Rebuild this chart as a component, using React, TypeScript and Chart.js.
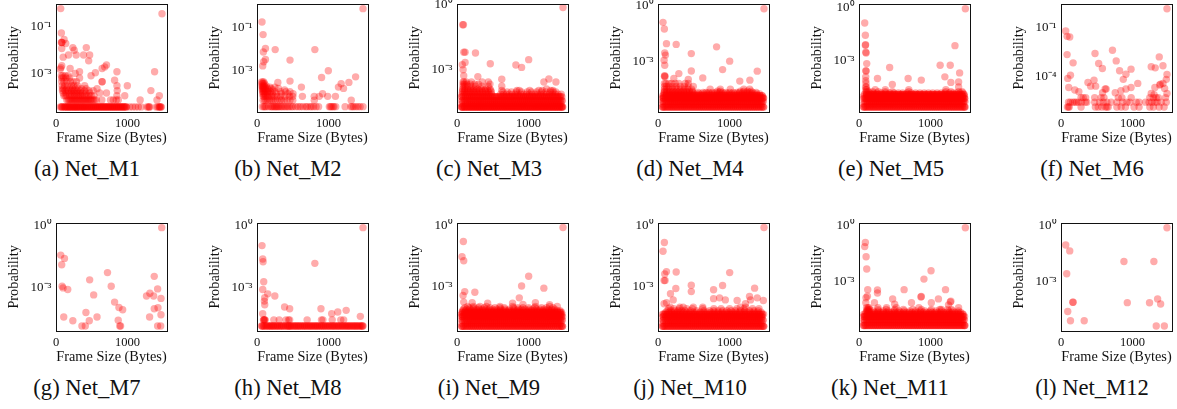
import { useEffect, useRef } from "react";
import { Chart, registerables } from "chart.js";
Chart.register(...registerables);

// Values are frame size in bytes and log10(probability).
// Frame sizes seen all across the saturated bands of the busy panels.
const denseA = [64,79,101,128,155,181,208,234,261,287,314,340,367,393,420,446,473,499,526,552,579,605,632,658,685,711,738,764,791,817,844,870,897,923,950,976,1003,1029,1056,1082,1109,1135,1162,1188,1215,1241,1268,1294,1321,1347,1374,1400,1427,1453,1474];
const denseB = [73,108,137,169,197,226,252,281,307,333,361,388,415,444,471,500,527,553,583,609,637,665,691,719,748,774,802,829,858,884,911,939,968,994,1021,1049,1077,1104,1131,1159,1187,1213,1241,1269,1297,1323,1352,1379,1406,1434,1461];
const denseC = [68,116,147,172,203,229,263,292,321,351,378,409,437,466,493,524,551,581,612,639,668,697,727,756,785,813,843,872,903,931,959,988,1017,1046,1074,1103,1133,1161,1191,1220,1249,1277,1307,1336,1365,1393,1422,1451];

const m1RowProbs = [-4.44, -4.14, -3.96, -3.84, -3.74, -3.66, -3.53, -3.36, -3.2, -3.1, -4.44];
const m1RowSizes = [
  [60,75,90,110,120,135,150,165,180,190,205,220,235,250,260,275,290,300,315,330,345,360,375,385,400,415,430,445,460,475,490,505,520,535,550,565,580,595,610,625,640,655,670,685,700,715,730,745,760,775,790,805,820,835,850,865,880,895,910,925,940,955,970,985,1030,1070,1110,1150,1190,1270,1290,1310,1400,1420,1440,1455,1470],
  [150,170,185,200,215,230,245,260,275,290,305,320,335,350,365,380,395,410,425,440,455,470,485,500,520,540,565,640,761,800,841,870,1175,1410],
  [110,130,150,190,215,240,260,290,320,345,370,400,430,460,490,530,850,960,1443],
  [100,140,180,210,250,280,310,340,370,420,470,611,705],
  [90,130,170,215,250,295,340,400,460,520,855,1325],
  [90,110,150,195,230,265,310,360,420,573],
  [85,120,160,215,250,300,400,851,996],
  [80,110,150,200,240,285,644],
  [80,100,140,190,329],
  [75,95,130,170,489],
  [82,128,155,181,208,234,261,287,314,340,367,393,420,446,473,499,526,552,579,605,632,658,685,711,738,764,791,817,844,870,897,923,950,976,1300,1445,1462],
];
const m1Sizes = [66,1480,75,113,75,85,80,136,80,174,235,254,423,282,385,470,456,705,680,644,550,851,1377,329,268,197,80,70,60,644,818,100];
const m1Probs = [-0.21,-0.43,-1.26,-1.54,-1.67,-1.67,-1.67,-1.71,-1.93,-2.21,-1.89,-2,-1.89,-2.21,-2.21,-2.21,-2.46,-2.64,-2.72,-2.79,-2.97,-2.93,-2.93,-2.93,-3,-2.79,-2.67,-2.75,-2.82,-3.36,-3.29,-2.3];

const m2RowProbs = [-4.67, -4.37, -4.19, -4.07, -3.97, -3.89, -3.82, -3.76, -3.7, -3.6, -3.52];
const m2RowSizes = [
  [75,95,110,125,160,190,205,220,240,255,270,285,300,320,340,360,385,405,430,450,480,500,540,575,605,640,680,700,740,760,790,825,860,1010,1025,1040,1060,1075,1100,1230,1310,1330,1350,1380,1410,1440,1480],
  [85,105,125,150,175,200,225,255,285,320,345,380,420,460,500,800,1316],
  [85,100,120,145,170,205,240,280,330,390,455,500,634,799,869,987,1095],
  [80,95,115,145,175,215,270,340,432,503,916],
  [80,95,120,150,190,250,330,400,460],
  [75,95,120,160,220,385],
  [75,90,110,150,200,300,1208],
  [75,90,115,180,250,1137,620],
  [70,85,100,130],
  [70,85,105,1175],
  [65,80,95],
];
const m2Sizes = [1480,70,85,118,89,254,808,461,118,94,80,996,902,1377,1283,461,291];
const m2Probs = [-0.1,-0.72,-1.31,-1.96,-2.12,-2.01,-2.01,-2.5,-2.47,-2.58,-2.77,-3,-3.31,-3.28,-3.54,-3.48,-3.54];

const m3RowProbs = [-4.77, -4.47, -4.29, -4.17, -4.07, -3.99, -3.92, -3.8, -3.7, -3.6, -4.77, -4.77, -4.62, -4.47, -4.29];
const m3RowSizes = [
  [62,85,110,135,162,188,212,238,265,291,316,342,368,393,420,447,472,498,523,550,575,601,628,654,679,705,732,757,783,810,835,861,888,914,940,965,991,1018,1044,1070,1096,1122,1148,1175,1201,1226,1252,1279,1305,1331,1357,1383,1408,1434,1460,1475],
  [70,97,123,150,178,204,230,257,283,310,336,362,390,416,442,468,495,521,548,574,600,627,653,680,706,732,759,785,811,838,864,890,917,943,970,996,1023,1049,1075,1102,1128,1154,1181,1207,1233,1260,1286,1312,1339,1365,1391,1418,1444,1470],
  [66,90,118,148,176,206,236,266,296,326,356,386,416,446,476,506,536,566,596,626,656,686,716,746,776,806,836,866,896,926,956,986,1016,1046,1076,1106,1136,1166,1196,1226,1256,1286,1316,1346,1376,1406,1436,1465],
  [72,100,130,162,194,226,258,290,322,354,386,418,450,482,610,650,690,730,770,810,850,890,930,970,1010,1050,1090,1130,1170,1210,1250,1290,1330,1370,1410,1455],
  [76,105,140,175,210,245,280,320,360,400,440,480,640,700,760,830,900,980,1040,1110,1180,1240,1300,1340,1380],
  [80,110,150,190,230,270,310,350,390,430,470,625,837,870,1015,1142,1190,1310,1340],
  [80,110,150,190,240,290,340,400,460,1250],
  [85,110,150,200,260,350,437,625],
  [85,105,140,190,250,300,460],
  [85,100,130,202,352,437,1213,1382],
  denseA, denseB, denseC, denseB, denseC,
];
const m3Sizes = [1480,80,90,113,95,258,113,75,465,85,1001,822,902,291,625,94,1283];
const m3Probs = [-0.13,-0.93,-0.93,-2.21,-2.21,-2.25,-2.69,-2.8,-2.75,-3.03,-2.56,-2.81,-2.92,-3.35,-3.47,-3.31,-3.46];

const m4RowProbs = [-5.4, -5.1, -4.92, -4.8, -4.7, -4.62, -4.55, -4.45, -4.3, -4.15, -5.4, -5.25, -5.1, -4.92, -4.8];
const m4RowSizes = [
  [62,88,114,140,167,193,219,245,271,298,324,350,376,402,428,455,481,507,533,560,586,612,638,664,691,717,743,769,795,821,848,874,900,926,953,979,1005,1031,1057,1084,1110,1136,1162,1189,1215,1241,1267,1293,1320,1346,1372,1398,1425,1451,1475],
  [68,95,123,150,178,205,233,260,288,315,343,370,398,425,453,480,508,535,563,590,618,645,673,700,728,755,783,810,838,865,893,920,948,975,1003,1030,1058,1085,1113,1140,1168,1195,1223,1250,1278,1305,1333,1360,1388,1415,1443,1470],
  [75,105,135,165,195,225,255,285,315,345,375,405,435,465,495,525,555,585,615,645,675,705,735,765,795,825,855,885,915,945,975,1005,1035,1065,1095,1125,1155,1185,1215,1245,1275,1305,1335,1365,1395,1425,1455,1472],
  [80,112,144,176,208,240,272,304,336,368,400,432,464,496,528,560,592,624,656,688,720,752,784,816,848,880,912,944,976,1008,1040,1072,1104,1136,1168,1200,1232,1264,1296,1328,1360,1392,1424,1456],
  [85,120,155,190,225,260,295,330,365,400,435,470,505,540,575,610,645,680,715,750,785,820,855,890,925,960,995,1030,1065,1100,1135,1170,1205,1240,1275,1310,1345,1380,1420],
  [85,120,160,200,240,280,320,360,400,440,480,560,630,670,710,760,810,860,900,950,1000,1050,1100,1140,1190,1240,1280,1320,1370],
  [90,125,170,215,260,305,350,395,440,480,830,870,1150,1200,1250,1300],
  [90,120,160,210,260,310,360,410,470,728,870,1010,1280,1198],
  [90,115,150,200,250,310,370,420,493],
  [90,110,150,190,240,290,380,423],
  denseA, denseC, denseB, denseA, denseC,
];
const m4Sizes = [1480,70,89,118,254,94,104,85,465,818,1001,902,1386,465,94,90,94,98,625,291,221,1142,1283,423];
const m4Probs = [-0.18,-0.9,-1.25,-2.03,-2.07,-2.52,-2.64,-2.91,-2.56,-2.2,-2.96,-3.41,-3.49,-3.48,-3.18,-3.76,-3.73,-3.79,-3.85,-3.62,-3.88,-4.02,-3.97,-3.93];

const m5RowProbs = [-5.57, -5.27, -5.09, -4.97, -4.87, -4.79, -4.72, -4.6, -4.45, -5.57, -5.4, -5.27, -5.09, -4.97, -4.87];
const m5RowSizes = [
  [66,92,118,144,170,196,222,248,274,300,326,352,378,404,430,456,482,508,534,560,586,612,638,664,690,716,742,768,794,820,846,872,898,924,950,976,1002,1028,1054,1080,1106,1132,1158,1184,1210,1236,1262,1288,1314,1340,1366,1392,1418,1444,1470,1482],
  [90,117,145,172,200,227,255,282,310,337,365,392,420,447,475,502,530,557,585,612,640,667,695,722,750,777,805,832,860,887,915,942,970,997,1025,1052,1080,1107,1135,1162,1190,1217,1245,1272,1300,1327,1355,1382,1410,1437,1465,1480],
  [96,126,156,186,216,246,276,306,336,366,396,426,456,486,516,546,576,606,636,666,696,726,756,786,816,846,876,906,936,966,996,1026,1056,1086,1116,1146,1176,1206,1236,1266,1296,1326,1356,1386,1416,1446,1476],
  [100,130,162,194,226,258,290,322,354,386,418,450,482,514,546,578,610,642,674,706,738,770,802,834,866,898,930,962,994,1026,1058,1090,1122,1154,1186,1218,1250,1282,1314,1346,1378,1410,1442,1472],
  [104,138,172,206,240,274,308,342,376,410,444,478,512,546,580,614,648,682,716,750,784,818,852,886,920,954,988,1022,1056,1090,1124,1158,1192,1226,1260,1294,1328,1362,1396,1430,1468],
  [100,150,200,250,310,370,430,490,550,610,670,730,790,850,910,970,1030,1090,1150,1200,1260,1310,1360,1410,1450],
  [100,130,190,270,367,465,695,1213,1283,1391,1440],
  [96,110,226,367,695,1213],
  [92,104,1391],
  denseA, denseC, denseB, denseA, denseC, denseB,
];
const m5Sizes = [1485,80,89,89,92,99,95,108,99,96,428,1340,1133,1274,1405,258,686,870,465,1199,1391,1283,94,94,98];
const m5Probs = [-0.09,-0.89,-1.57,-2.13,-2.1,-2.56,-2.52,-3.15,-3.57,-3.55,-3.37,-2.15,-3.24,-3.24,-3.67,-3.98,-3.98,-4.07,-4.31,-3.89,-4.17,-4.2,-3.89,-4.1,-4.25];

const m6RowProbs = [-5.91, -5.61, -5.33];
const m6RowSizes = [
  [90,105,115,280,480,520,570,620,640,660,780,840,900,1020,1090,1240,1290,1370,1440],
  [105,130,165,190,215,245,285,340,360,470,540,590,640,700,780,860,920,960,1050,1090,1180,1230,1270,1310,1340,1400,1470],
  [280,310,345,470,560,600,800,850,980,1240,1290,1330,1360,1460],
];
const m6Sizes = [1480,66,85,122,85,169,132,94,475,526,578,719,771,818,978,907,870,1372,1424,1260,1316,1480,1471,1424,1377,1072,978,907,376,461,414,484,616,108,193,249,757,837,1311,1447,1260,1480,1390,1300,630,580];
const m6Probs = [0.17,-1.21,-1.54,-1.58,-2.67,-3.18,-3.94,-4.14,-2.6,-3.22,-3.53,-2.4,-3.06,-3.67,-3.57,-3.88,-4.2,-2.81,-3.36,-3.42,-3.49,-3.9,-4.2,-4.45,-4.55,-4.45,-4.7,-4.8,-4.39,-4.25,-4.62,-4.62,-4.8,-4.7,-4.86,-4.97,-5.03,-4.9,-4.7,-4.76,-5.07,-5.07,-4.5,-5.15,-4.8,-5.03];

const m7RowProbs: number[] = [];
const m7RowSizes: number[][] = [];
const m7Sizes = [1476,66,118,80,85,99,164,719,470,771,526,818,879,931,1372,1419,1311,1264,1363,1466,1372,1424,1466,1307,108,235,418,465,573,869,362,409,902,890,1419,1462];
const m7Probs = [-0.08,-1.41,-1.57,-1.88,-2.92,-3,-3.08,-2.26,-2.61,-2.92,-3.34,-3.69,-3.95,-4.06,-2.44,-3.05,-3.26,-3.39,-3.39,-3.51,-4.01,-3.96,-4.3,-4.41,-4.41,-4.59,-4.19,-4.59,-4.41,-4.57,-4.85,-4.85,-4.85,-4.85,-4.85,-4.85];

const m8RowProbs = [-4.85, -4.55, -4.85];
const m8RowSizes = [
  [70,95,125,150,175,195,220,240,270,290,320,345,370,405,430,445,460,480,510,535,560,585,610,640,665,690,720,745,770,800,825,850,880,905,930,955,985,1010,1040,1065,1090,1120,1145,1175,1200,1230,1255,1280,1305,1335,1360,1385,1410,1440,1465,1480],
  [90,96,100,108,113,235,310,405,440,456,700,900,920,1050,1170,1210],
  denseA,
];
const m8Sizes = [1480,70,80,85,808,94,80,150,249,108,103,108,80,385,456,893,1043,1128,1245,1443];
const m8Probs = [-0.08,-0.95,-1.6,-1.73,-1.81,-2.7,-3.08,-3.29,-3.39,-3.48,-3.64,-3.82,-4.25,-3.93,-4.01,-4.01,-4.25,-4.17,-4.09,-4.38];

const m9RowProbs = [-4.97, -4.67, -4.49, -4.37, -4.27, -4.19, -4.12, -4.05, -3.98, -4.97, -4.82, -4.67, -4.49, -4.37, -4.27];
const m9RowSizes = [
  [68,95,122,150,177,204,231,258,286,313,340,367,395,422,449,476,503,531,558,585,612,640,667,694,721,748,776,803,830,857,885,912,939,966,993,1021,1048,1075,1102,1130,1157,1184,1211,1238,1266,1293,1320,1347,1375,1402,1429,1456,1472],
  [72,100,128,156,184,212,240,268,296,324,352,380,408,436,464,492,520,548,576,604,632,660,688,716,744,772,800,828,856,884,912,940,968,996,1024,1052,1080,1108,1136,1164,1192,1220,1248,1276,1304,1332,1360,1388,1416,1444,1470],
  [76,106,136,166,196,226,256,286,316,346,376,406,436,466,496,526,556,586,616,646,676,706,736,766,796,826,856,886,916,946,976,1006,1036,1066,1096,1126,1156,1186,1216,1246,1276,1306,1336,1366,1396,1426,1456],
  [70,102,134,166,198,230,262,294,326,358,390,422,454,486,518,550,582,614,646,678,710,742,774,806,838,870,902,934,966,998,1030,1062,1094,1126,1158,1190,1222,1254,1286,1318,1350,1382,1414,1446,1466],
  [74,110,146,182,218,254,290,326,362,398,434,470,506,542,578,614,650,686,722,758,794,830,866,902,938,974,1010,1046,1082,1118,1154,1190,1226,1262,1298,1334,1370,1406,1442],
  [80,120,160,200,240,280,320,360,400,440,480,520,560,600,640,680,720,760,800,840,880,920,960,1000,1040,1080,1120,1160,1200,1240,1280,1320,1360,1400,1440],
  [90,135,180,225,270,315,360,405,450,500,555,610,670,735,800,860,900,950,1005,1060,1110,1160,1215,1270,1320,1365],
  [110,170,230,300,380,460,530,600,660,790,850,920,1000,1085,1180,1250,1340],
  [150,230,320,410,600,776,1095,1293,1400],
  denseA, denseC, denseB, denseA, denseC, denseB,
];
const m9Sizes = [1480,89,70,94,108,85,249,1001,902,1213,870,94,212,428,1095,776,921,1293];
const m9Probs = [-0.08,-0.77,-1.52,-1.72,-3.25,-3.44,-3.28,-2.49,-2.97,-3.08,-3.56,-3.77,-3.8,-3.82,-3.8,-3.82,-3.88,-3.9];

const m10RowProbs = [-4.97, -4.67, -4.49, -4.37, -4.27, -4.19, -4.1, -4.02, -4.97, -4.82, -4.67, -4.49, -4.37];
const m10RowSizes = [
  [62,88,115,142,169,196,223,250,277,304,331,358,385,412,439,466,493,520,547,574,601,628,655,682,709,736,763,790,817,844,871,898,925,952,979,1006,1033,1060,1087,1114,1141,1168,1195,1222,1249,1276,1303,1330,1357,1384,1411,1438,1465,1478],
  [70,98,126,154,182,210,238,266,294,322,350,378,406,434,462,490,518,546,574,602,630,658,686,714,742,770,798,826,854,882,910,938,966,994,1022,1050,1078,1106,1134,1162,1190,1218,1246,1274,1302,1330,1358,1386,1414,1442,1470],
  [76,108,140,172,204,236,268,300,332,364,396,428,460,492,524,556,588,620,652,684,716,748,780,812,844,876,908,940,972,1004,1036,1068,1100,1132,1164,1196,1228,1260,1292,1324,1356,1388,1420,1452],
  [90,125,160,195,230,265,300,335,370,405,440,475,510,545,580,615,650,685,720,755,790,825,860,895,930,965,1000,1035,1070,1105,1140,1175,1210,1245,1280,1315,1350,1385,1420,1455],
  [110,150,190,230,270,310,350,395,440,490,540,590,640,690,740,790,840,890,940,990,1040,1090,1140,1190,1240,1290,1340,1390,1440],
  [130,180,230,280,330,380,450,540,640,720,780,840,900,960,1020,1080,1150,1210,1280,1340,1400],
  [150,220,300,400,480,625,780,880,1000,1100,1200,1320,1410],
  [170,305,352,493,625,1151,1222],
  denseA, denseC, denseB, denseC, denseA,
];
const m10Sizes = [1480,89,70,118,94,254,99,85,465,465,249,1001,902,1349,776,174,776,860,940,1105,1278,1386,1471,1292,1222,118,85,212];
const m10Probs = [-0.08,-0.82,-1.25,-2.26,-2.38,-2.28,-2.7,-2.7,-2.93,-3.25,-3.1,-2.31,-2.95,-3.08,-3.16,-3.36,-3.6,-3.56,-3.66,-3.69,-3.49,-3.56,-3.69,-3.66,-3.85,-3.8,-3.85,-3.66];

const m11RowProbs = [-5.36, -5.06, -4.88, -4.76, -4.66, -4.58, -4.5, -4.41, -5.36, -5.2, -5.06, -4.88, -4.76];
const m11RowSizes = [
  [66,92,119,146,173,200,227,254,281,308,335,362,389,416,443,470,497,524,551,578,605,632,659,686,713,740,767,794,821,848,875,902,929,956,983,1010,1037,1064,1091,1118,1145,1172,1199,1226,1253,1280,1307,1334,1361,1388,1415,1442,1469,1480],
  [72,100,128,156,184,212,240,268,296,324,352,380,408,436,464,492,520,548,576,604,632,660,688,716,744,772,800,828,856,884,912,940,968,996,1024,1052,1080,1108,1136,1164,1192,1220,1248,1276,1304,1332,1360,1388,1416,1444,1472],
  [80,112,144,176,208,240,272,304,336,368,400,432,464,496,528,560,592,624,656,688,720,752,784,816,848,880,912,944,976,1008,1040,1072,1104,1136,1168,1200,1232,1264,1296,1328,1360,1392,1424,1456],
  [84,118,152,186,220,254,288,322,356,390,424,458,492,526,560,594,628,662,696,730,764,798,832,866,900,934,968,1002,1036,1070,1104,1138,1172,1206,1240,1274,1308,1342,1376,1410,1450],
  [100,140,180,220,260,300,340,380,420,460,500,540,580,620,660,700,740,780,820,860,900,940,980,1020,1060,1100,1140,1180,1220,1260,1300,1340,1380,1420],
  [110,125,140,200,270,340,410,490,560,630,710,790,860,920,1000,1080,1150,1250,1310,1390],
  [115,130,148,265,380,500,620,750,870,1010,1130,1150,1240,1290],
  [105,125,140,265,385,520,837,1391],
  denseA, denseC, denseB, denseA, denseC,
];
const m11Sizes = [1485,89,80,99,108,1006,907,122,258,258,630,1208,870,865,117,98,470,1109,1283,1275,1010,733,95,216,498,1250];
const m11Probs = [-0.09,-0.89,-1.11,-1.66,-2.32,-2.41,-2.86,-3.43,-3.45,-3.61,-3.43,-3.43,-3.8,-3.83,-3.79,-3.87,-3.93,-3.93,-4.05,-4.09,-4.14,-4.14,-4.14,-4.14,-4.22,-4.25];

const m12RowProbs: number[] = [];
const m12RowSizes: number[][] = [];
const m12Sizes = [1480,66,122,80,879,1297,169,165,926,1236,1349,1391,94,132,324,1330,1443];
const m12Probs = [-0.09,-1.02,-1.34,-2.57,-1.91,-1.91,-4.11,-4.11,-4.13,-4.14,-3.93,-4.2,-4.61,-5.11,-5.11,-5.39,-5.39];

const captions = ["(a) Net_M1","(b) Net_M2","(c) Net_M3","(d) Net_M4","(e) Net_M5","(f) Net_M6","(g) Net_M7","(h) Net_M8","(i) Net_M9","(j) Net_M10","(k) Net_M11","(l) Net_M12"];
const xTickValues = [0, 1000];
const yTickExps = [[-1,-3],[-1,-3],[0,-3],[0,-3],[0,-3],[-1,-4],[0,-3],[0,-3],[0,-3],[0,-3],[0,-3],[0,-3]];
const yMinExps = [-4.66,-4.92,-5.0,-5.66,-5.85,-6.22,-5.09,-5.09,-5.2,-5.2,-5.66,-5.66];
const yMaxExps = [0,0.13,0.05,0.09,0.19,0.48,0.16,0.16,0.16,0.16,0.18,0.18];

const series = [
  [m1RowProbs,m1RowSizes,m1Sizes,m1Probs],[m2RowProbs,m2RowSizes,m2Sizes,m2Probs],[m3RowProbs,m3RowSizes,m3Sizes,m3Probs],
  [m4RowProbs,m4RowSizes,m4Sizes,m4Probs],[m5RowProbs,m5RowSizes,m5Sizes,m5Probs],[m6RowProbs,m6RowSizes,m6Sizes,m6Probs],
  [m7RowProbs,m7RowSizes,m7Sizes,m7Probs],[m8RowProbs,m8RowSizes,m8Sizes,m8Probs],[m9RowProbs,m9RowSizes,m9Sizes,m9Probs],
  [m10RowProbs,m10RowSizes,m10Sizes,m10Probs],[m11RowProbs,m11RowSizes,m11Sizes,m11Probs],[m12RowProbs,m12RowSizes,m12Sizes,m12Probs],
] as any[];

const axisLefts = [56,257,457,658,859,1061,56,257,457,658,859,1061];
const captionCenters = [87,288,489,690,891,1092,87,288,489,690,890,1092];
const SERIF = "'Liberation Serif', serif";
const GUTTER = 50;
const SUPER: Record<string,string> = {"-":"\u207B","0":"\u2070","1":"\u00B9","3":"\u00B3","4":"\u2074"};

const frame = {
  id: "frame",
  afterDatasetsDraw(chart: any) {
    const { ctx, chartArea: a } = chart;
    ctx.save();
    ctx.strokeStyle = "#111";
    ctx.lineWidth = 1;
    ctx.strokeRect(Math.round(a.left) + 0.5, Math.round(a.top) + 0.5, Math.round(a.width), Math.round(a.height));
    ctx.restore();
  },
};

function Panel({ index }: { index: number }) {
  const ref = useRef<HTMLCanvasElement>(null);
  useEffect(() => {
    const [rowProbs, rowSizes, sizes, probs] = series[index];
    const data: { x: number; y: number }[] = [];
    rowProbs.forEach((e: number, r: number) => rowSizes[r].forEach((x: number) => data.push({ x, y: 10 ** e })));
    sizes.forEach((x: number, i: number) => data.push({ x, y: 10 ** probs[i] }));
    const fit = (height?: number, width?: number) => (s: any) => {
      if (height) s.height = height;
      if (width) s.width = width;
      s.paddingTop = s.paddingBottom = s.paddingLeft = s.paddingRight = 0;
    };
    const tickFontX = { family: SERIF, size: 12.5 };
    const tickFontY = { family: SERIF, size: 13 };
    const titleFont = { family: SERIF, size: 14.3 };
    const chart = new Chart(ref.current!, {
      type: "scatter",
      data: { datasets: [{ data, backgroundColor: "rgba(255,0,0,0.33)", borderWidth: 0, pointRadius: 3.7, pointHoverRadius: 3.7 }] },
      plugins: [frame],
      options: {
        animation: false,
        responsive: false,
        events: [],
        layout: { padding: { top: 3, right: 5, left: 0, bottom: 0 } },
        plugins: { legend: { display: false }, tooltip: { enabled: false } },
        scales: {
          x: {
            type: "linear", min: 0, max: 1550,
            grid: { display: false, drawTicks: true, tickLength: 3.5, tickColor: "#111" },
            border: { display: false },
            afterBuildTicks: (s: any) => { s.ticks = xTickValues.map((value) => ({ value })); },
            afterFit: fit(35),
            ticks: { color: "#111", font: tickFontX, padding: 1, maxRotation: 0, autoSkip: false, callback: (v: any) => String(v) },
            title: { display: true, text: "Frame Size (Bytes)", color: "#111", font: titleFont, padding: 0 },
          },
          y: {
            type: "logarithmic", min: 10 ** yMinExps[index], max: 10 ** yMaxExps[index],
            grid: { display: false, drawTicks: true, tickLength: 3.5, tickColor: "#111" },
            border: { display: false },
            afterBuildTicks: (s: any) => { s.ticks = yTickExps[index].map((e) => ({ value: 10 ** e })); },
            afterFit: fit(undefined, GUTTER),
            ticks: {
              color: "#111", font: tickFontY, padding: 1, autoSkip: false,
              callback: (v: any) => "10" + String(Math.round(Math.log10(Number(v)))).split("").map((c) => SUPER[c]).join(""),
            },
            title: { display: true, text: "Probability", color: "#111", font: titleFont, padding: 0 },
          },
        },
      },
    } as any);
    return () => chart.destroy();
  }, [index]);
  const row2 = index >= 6;
  return (
    <>
      <canvas ref={ref} width={GUTTER + 111 + 5} height={147}
        style={{ position: "absolute", left: axisLefts[index] - GUTTER, top: row2 ? 219 : 0, width: GUTTER + 116, height: 147 }} />
      <div style={{ position: "absolute", left: captionCenters[index] - 90, width: 180, top: row2 ? 376 : 157, textAlign: "center", font: `22.6px/24px ${SERIF}`, color: "#111" }}>
        {captions[index]}
      </div>
    </>
  );
}

export default function App() {
  return (
    <div style={{ position: "absolute", left: 0, top: 0, width: 1177, height: 409, background: "#fff", overflow: "hidden" }}>
      {captions.map((_, i) => <Panel key={i} index={i} />)}
    </div>
  );
}
